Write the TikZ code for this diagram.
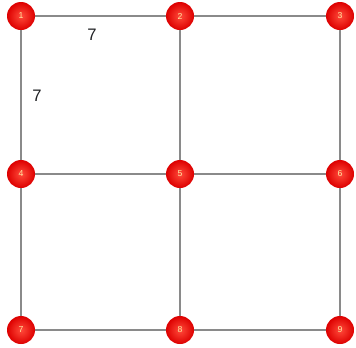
\documentclass[tikz,border=0pt]{standalone}
\usepackage{fontspec}
\setmainfont{Liberation Sans}
\usetikzlibrary{positioning}
\definecolor{ink}{HTML}{202124}
\definecolor{edgegray}{HTML}{8A8A8A}
\definecolor{ballred}{HTML}{DD0000}
\definecolor{balllight}{HTML}{FF4A3A}
\definecolor{labelyel}{HTML}{FFE6A0}
\tikzset{
  vertex/.style={circle,minimum size=21pt,inner sep=0pt,inner color=balllight,outer color=ballred,font=\fontsize{6.5}{7}\selectfont\color{labelyel}},
  gridedge/.style={draw=edgegray,line width=1.2pt},
  weightlbl/.style={font=\fontsize{12.5}{14}\selectfont\color{ink}}
}
\begin{document}
\begin{tikzpicture}[x=0.75pt,y=-0.75pt]
  \useasboundingbox (0,0) rectangle (356,347);
  \foreach \r/\yy in {0/16,1/174,2/330} {
    \foreach \c/\xx in {0/21,1/180,2/340} {
      \pgfmathtruncatemacro{\idx}{3*\r+\c+1}
      \node[vertex] (n\idx) at (\xx,\yy) {\idx};
    }
  }
  \foreach \a/\b in {1/2,2/3,4/5,5/6,7/8,8/9,1/4,4/7,2/5,5/8,3/6,6/9} {
    \draw[gridedge] (n\a) -- (n\b);
  }
  \node[weightlbl] (w12) at (92,35) {7};
  \node[weightlbl] (w14) at (37,96) {7};
\end{tikzpicture}
\end{document}
